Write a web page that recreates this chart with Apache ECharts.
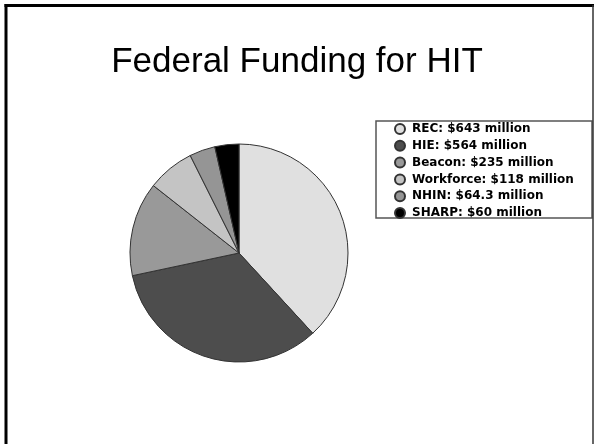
<!DOCTYPE html>
<html>
<head>
<meta charset="utf-8">
<script src="https://cdn.jsdelivr.net/npm/echarts@6/dist/echarts.min.js"></script>
<style>
html,body{margin:0;padding:0;background:#fff;}
#chart{width:594px;height:444px;}
</style>
</head>
<body>
<div id="chart"></div>
<script>
var titleText = 'Federal Funding for HIT';
var categories = ['REC: $643 million', 'HIE: $564 million', 'Beacon: $235 million', 'Workforce: $118 million', 'NHIN: $64.3 million', 'SHARP: $60 million'];
var values = [643, 564, 235, 118, 64.3, 60];
var colors = ['#e0e0e0', '#4d4d4d', '#999999', '#c4c4c4', '#959595', '#000000'];

var chart = echarts.init(document.getElementById('chart'), null, {renderer: 'canvas'});
var data = categories.map(function (c, i) {
  return {name: c, value: values[i], itemStyle: {color: colors[i]}};
});
chart.setOption({
  animation: false,
  backgroundColor: '#ffffff',
  title: {
    text: titleText,
    left: 'center',
    top: 40,
    textStyle: {fontFamily: 'Liberation Sans', fontSize: 35, fontWeight: 'normal', color: '#000'}
  },
  legend: {
    orient: 'vertical',
    left: 394,
    top: 123,
    icon: 'circle',
    itemWidth: 10,
    itemHeight: 10,
    itemGap: 4.8,
    padding: 0,
    textStyle: {fontFamily: 'DejaVu Sans', fontWeight: 'bold', fontSize: 12, color: '#000', lineHeight: 12, padding: [0, 0, 0, 2]},
    data: categories
  },
  graphic: [
    {type: 'rect', shape: {x: 376, y: 121, width: 216, height: 97}, style: {fill: 'none', stroke: '#555', lineWidth: 1.5}, z: -1},
    {type: 'line', shape: {x1: 6, y1: 4, x2: 6, y2: 444}, style: {stroke: '#000', lineWidth: 3}},
    {type: 'line', shape: {x1: 4.5, y1: 5.5, x2: 594, y2: 5.5}, style: {stroke: '#000', lineWidth: 3}},
    {type: 'line', shape: {x1: 593, y1: 5, x2: 593, y2: 444}, style: {stroke: '#333', lineWidth: 1.5}}
  ],
  series: [{
    type: 'pie',
    center: [239, 253],
    radius: 109,
    startAngle: 90,
    clockwise: true,
    label: {show: false},
    labelLine: {show: false},
    emphasis: {disabled: true},
    itemStyle: {borderColor: '#333', borderWidth: 1},
    data: data
  }]
});
</script>
</body>
</html>
